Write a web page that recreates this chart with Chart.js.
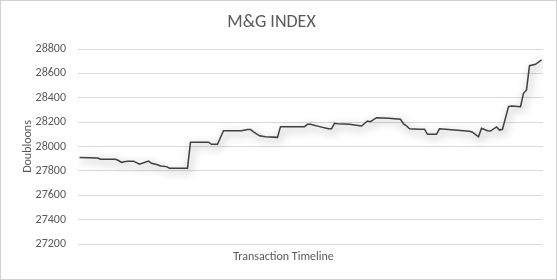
<!DOCTYPE html>
<html>
<head>
<meta charset="utf-8">
<script src="https://cdn.jsdelivr.net/npm/chart.js@4"></script>
<style>
  html, body { margin: 0; padding: 0; background: #ffffff; }
  canvas { display: block; }
</style>
</head>
<body>
<canvas id="c" width="557" height="280"></canvas>
<script>
// Transaction index (x) and index value in doubloons (y)
const transactions = [0,6,7,12,13,14,16,18,20,23,24,26,27,29,30,36,37,43,44,46,48,54,56,57,58,60,62,66,67,75,76,77,80,83,84,85,86,90,94,96,97,99,103,107,108,109,110,113,115,116,119,120,125,130,131,133,134,136,137,139,140,141,143,144,147,148,149,150,152,154];
const doubloons = [27910,27905,27895,27895,27885,27870,27880,27880,27855,27880,27862,27850,27840,27835,27822,27822,28035,28035,28018,28018,28130,28130,28140,28140,28120,28088,28080,28075,28163,28163,28182,28182,28163,28145,28145,28190,28187,28182,28168,28209,28204,28236,28231,28223,28185,28170,28145,28142,28142,28100,28100,28145,28135,28125,28117,28080,28150,28130,28127,28160,28135,28141,28327,28332,28327,28436,28464,28663,28674,28710];
const yTicks = [27200,27400,27600,27800,28000,28200,28400,28600,28800];

const chartTitle = 'M&G INDEX';
const yTitle = 'Doubloons';
const xTitle = 'Transaction Timeline';

const FONT = "Carlito, Calibri, Lato, 'Liberation Sans', sans-serif";
const TXT = '#595959';

const points = transactions.map((t, i) => ({ x: t, y: doubloons[i] }));

const frame = {
  id: 'frame',
  beforeDraw(chart) {
    const ctx = chart.ctx;
    ctx.save();
    ctx.fillStyle = '#ffffff';
    ctx.fillRect(0, 0, chart.width, chart.height);
    ctx.restore();
  },
  afterDraw(chart) {
    const ctx = chart.ctx;
    ctx.save();
    ctx.strokeStyle = '#d0d0d0';
    ctx.lineWidth = 1;
    ctx.strokeRect(0.5, 0.5, chart.width - 1, chart.height - 1);
    // x-axis title, centred the way the reference places it
    ctx.fillStyle = TXT;
    ctx.font = '12px ' + FONT;
    ctx.textAlign = 'center';
    ctx.textBaseline = 'middle';
    ctx.fillText(xTitle, chart.width / 2 + 5, chart.chartArea.bottom + 13);
    ctx.restore();
  },
  beforeDatasetsDraw(chart) {
    const ctx = chart.ctx;
    ctx.save();
    ctx.shadowColor = 'rgba(0,0,0,0.5)';
    ctx.shadowBlur = 8;
    ctx.shadowOffsetX = 2;
    ctx.shadowOffsetY = 3;
  },
  afterDatasetsDraw(chart) {
    chart.ctx.restore();
  }
};

new Chart(document.getElementById('c'), {
  type: 'line',
  plugins: [frame],
  data: {
    datasets: [{
      data: points,
      borderColor: '#404040',
      borderWidth: 1.5,
      pointRadius: 0,
      tension: 0,
      fill: false
    }]
  },
  options: {
    responsive: false,
    animation: false,
    events: [],
    layout: { padding: { left: 0, right: 14, top: 0, bottom: 0 } },
    plugins: {
      legend: { display: false },
      tooltip: { enabled: false },
      title: {
        display: true,
        text: chartTitle,
        color: TXT,
        font: { family: FONT, size: 18, weight: 'normal' },
        padding: { top: 12, bottom: 15.4 }
      }
    },
    scales: {
      x: {
        type: 'linear',
        min: -0.5,
        max: 154.5,
        grid: { display: false, drawTicks: false },
        border: { display: false },
        ticks: { display: false },
        afterFit(scale) { scale.height = 36; }
      },
      y: {
        min: 27200,
        max: 28800,
        afterBuildTicks(scale) { scale.ticks = yTicks.map(v => ({ value: v })); },
        grid: { color: '#d9d9d9', lineWidth: 1, drawTicks: false },
        border: { display: false },
        ticks: {
          color: TXT,
          font: { family: FONT, size: 12 },
          padding: 12,
          callback: v => String(v)
        },
        title: {
          display: true,
          text: yTitle,
          color: TXT,
          font: { family: FONT, size: 12 },
          padding: { top: 21, bottom: 4 }
        },
        afterFit(scale) { scale.width = 78; }
      }
    }
  }
});
</script>
</body>
</html>
